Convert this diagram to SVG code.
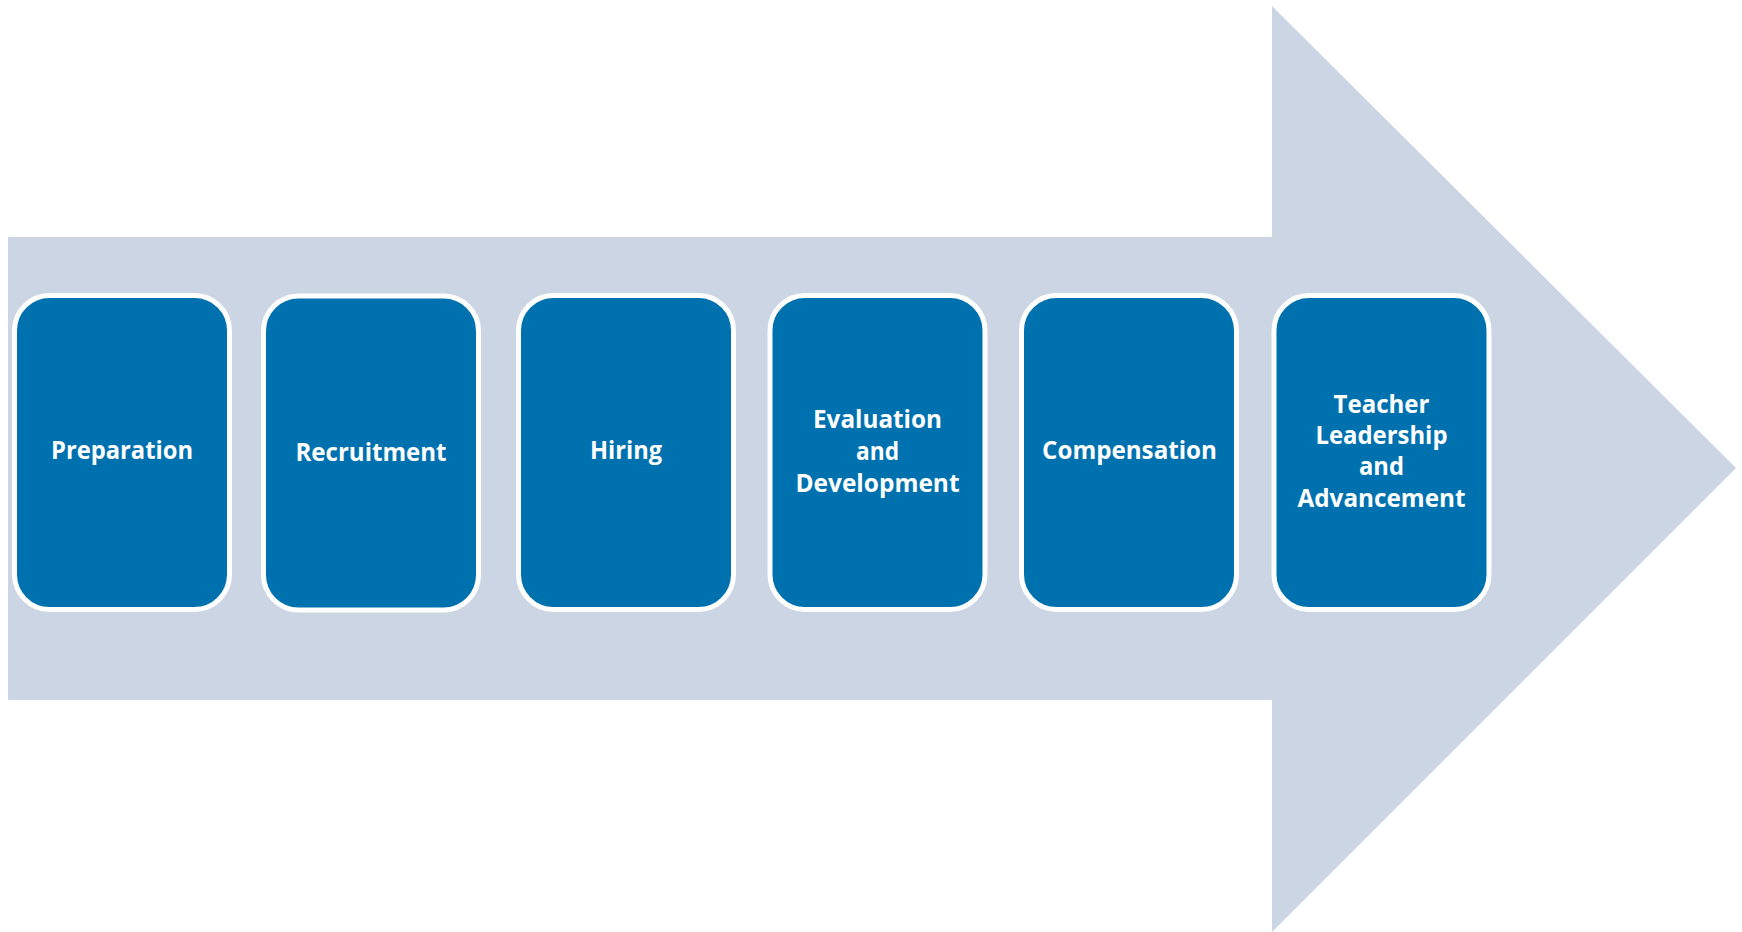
<svg xmlns="http://www.w3.org/2000/svg" width="1742" height="932" viewBox="0 0 1742 932">
  <style>
    .stage rect { fill: #0071AF; stroke: #FFFFFF; stroke-width: 5; }
    .stage text { font-family: "Open Sans", "Liberation Sans", sans-serif; font-weight: 700; font-size: 25px; fill: #FFFFFF; text-anchor: middle; }
  </style>
  <rect width="1742" height="932" fill="#FFFFFF"/>

  <!-- Block arrow behind the stages -->
  <polygon id="arrow" points="8,237 1272,237 1272,6 1736,468 1272,932 1272,700 8,700" fill="#CCD5E3"/>

  <g id="connectors"></g>

  <g id="stage-preparation" class="stage">
    <rect x="14.5" y="295.5" width="215" height="314" rx="35" ry="35"/>
    <text x="122" y="459" textLength="142" lengthAdjust="spacingAndGlyphs">Preparation</text>
  </g>

  <g id="stage-recruitment" class="stage">
    <rect x="263.5" y="296" width="215" height="314" rx="35" ry="35"/>
    <text x="371" y="461" textLength="151" lengthAdjust="spacingAndGlyphs">Recruitment</text>
  </g>

  <g id="stage-hiring" class="stage">
    <rect x="518.5" y="295.5" width="215" height="314" rx="35" ry="35"/>
    <text x="626" y="459" textLength="72" lengthAdjust="spacingAndGlyphs">Hiring</text>
  </g>

  <g id="stage-evaluation" class="stage">
    <rect x="770" y="295.5" width="215" height="314" rx="35" ry="35"/>
    <text x="877.5" y="428" textLength="129" lengthAdjust="spacingAndGlyphs">Evaluation</text>
    <text x="877.5" y="460" textLength="43" lengthAdjust="spacingAndGlyphs">and</text>
    <text x="877.5" y="492" textLength="164" lengthAdjust="spacingAndGlyphs">Development</text>
  </g>

  <g id="stage-compensation" class="stage">
    <rect x="1021.5" y="295.5" width="215" height="314" rx="35" ry="35"/>
    <text x="1129.5" y="459" textLength="175" lengthAdjust="spacingAndGlyphs">Compensation</text>
  </g>

  <g id="stage-leadership" class="stage">
    <rect x="1274" y="295.5" width="215" height="314" rx="35" ry="35"/>
    <text x="1381.5" y="413" textLength="96" lengthAdjust="spacingAndGlyphs">Teacher</text>
    <text x="1381.5" y="444" textLength="132" lengthAdjust="spacingAndGlyphs">Leadership</text>
    <text x="1381.5" y="475" textLength="45" lengthAdjust="spacingAndGlyphs">and</text>
    <text x="1381.5" y="507" textLength="168" lengthAdjust="spacingAndGlyphs">Advancement</text>
  </g>
</svg>
